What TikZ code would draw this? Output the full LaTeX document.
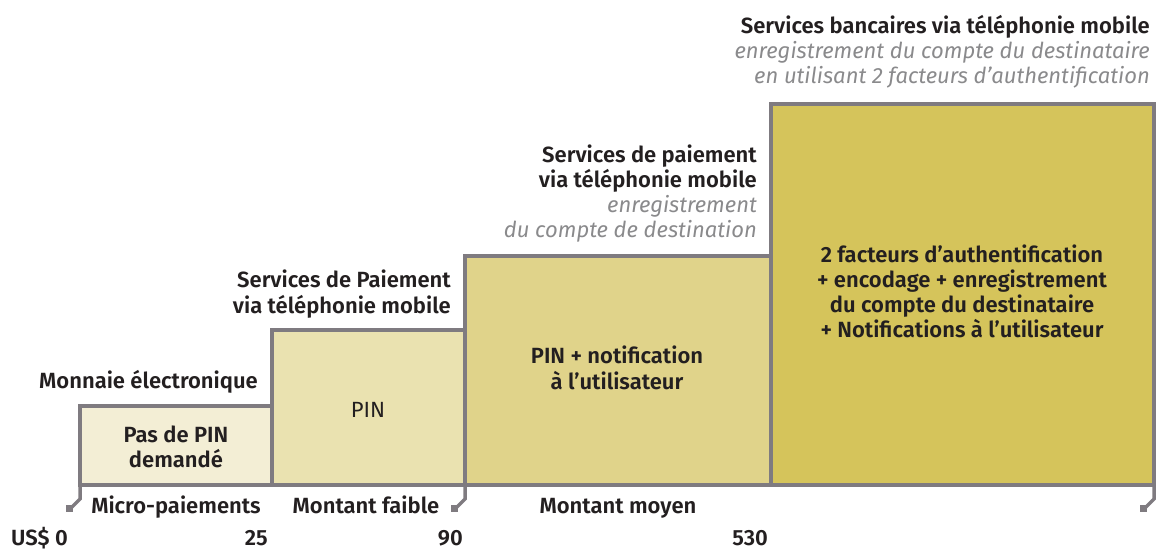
\documentclass[tikz,border=0pt]{standalone}
\usepackage{fontspec}
\setmainfont{Fira Sans}[BoldFont={Fira Sans SemiBold}]
\definecolor{ink}{HTML}{231F20}
\definecolor{subgray}{HTML}{8A8A8C}
\definecolor{frame}{HTML}{7F7B80}
\definecolor{fillA}{HTML}{F3EED5}
\definecolor{fillB}{HTML}{EAE2B0}
\definecolor{fillC}{HTML}{E0D38A}
\definecolor{fillD}{HTML}{D5C45B}
\begin{document}
\begin{tikzpicture}[x=1pt,y=-1pt,
  lbl/.style={font=\fontsize{22}{26}\selectfont\bfseries, text=ink, inner sep=0pt},
  plain/.style={font=\fontsize{22}{26}\selectfont, text=ink, inner sep=0pt},
  sub/.style={font=\fontsize{22}{26}\selectfont\itshape, text=subgray, inner sep=0pt},
  edge/.style={draw=frame, line width=4pt},
  brk/.style={draw=frame, line width=3.5pt},
  tipsq/.style={fill=frame}]
\useasboundingbox (0,0) rectangle (1157,549);
% fills
\fill[fillA] (80,406) rectangle (272,485);
\fill[fillB] (272,330) rectangle (465,485);
\fill[fillC] (465,256) rectangle (771,485);
\fill[fillD] (771,104) rectangle (1154,485);
% outline
\draw[edge] (80,485) -- (80,406) -- (272,406) -- (272,330) -- (465,330) -- (465,256) -- (771,256) -- (771,104) -- (1154,104) -- (1154,485) -- cycle;
\draw[edge] (272,406) -- (272,485);
\draw[edge] (465,330) -- (465,485);
\draw[edge] (771,256) -- (771,485);
% brackets
\foreach \x in {80,465,1154}{
  \draw[brk] (\x,485) -- (\x,499) -- (\x-9,508);
  \fill[tipsq] (\x-14,505) rectangle (\x-7,512);
}
% headings
\node[lbl, anchor=base east] (t4a) at (1150,33) {Services bancaires via téléphonie mobile};
\node[sub, anchor=base east] (t4b) at (1150,58) {enregistrement du compte du destinataire};
\node[sub, anchor=base east] (t4c) at (1150,83) {en utilisant 2 facteurs d’authentification};
\node[lbl, anchor=base east] (t3a) at (757,162) {Services de paiement};
\node[lbl, anchor=base east] (t3b) at (757,187) {via téléphonie mobile};
\node[sub, anchor=base east] (t3c) at (757,212) {enregistrement};
\node[sub, anchor=base east] (t3d) at (757,237) {du compte de destination};
\node[lbl, anchor=base east] (t2a) at (451,287) {Services de Paiement};
\node[lbl, anchor=base east] (t2b) at (451,313) {via téléphonie mobile};
\node[lbl, anchor=base east] (t1a) at (258,388) {Monnaie électronique};
% box texts
\node[lbl, anchor=base] (b1a) at (176,442) {Pas de PIN};
\node[lbl, anchor=base] (b1b) at (176,467) {demandé};
\node[plain, anchor=base] (b2a) at (368,417) {PIN};
\node[lbl, anchor=base] (b3a) at (617,363) {PIN + notification};
\node[lbl, anchor=base] (b3b) at (617,389) {à l’utilisateur};
\node[lbl, anchor=base] (b4a) at (962,262) {2 facteurs d’authentification};
\node[lbl, anchor=base] (b4b) at (962,287) {+ encodage + enregistrement};
\node[lbl, anchor=base] (b4c) at (962,312) {du compte du destinataire};
\node[lbl, anchor=base] (b4d) at (962,337) {+ Notifications à l’utilisateur};
% axis
\node[lbl, anchor=base] (m1) at (176,513) {Micro-paiements};
\node[lbl, anchor=base] (m2) at (366,513) {Montant faible};
\node[lbl, anchor=base] (m3) at (618,513) {Montant moyen};
\node[lbl, anchor=base west] (v0) at (11,545) {US\$ 0};
\node[lbl, anchor=base east] (v1) at (268,545) {25};
\node[lbl, anchor=base east] (v2) at (463,545) {90};
\node[lbl, anchor=base east] (v3) at (768,545) {530};
\end{tikzpicture}
\end{document}
